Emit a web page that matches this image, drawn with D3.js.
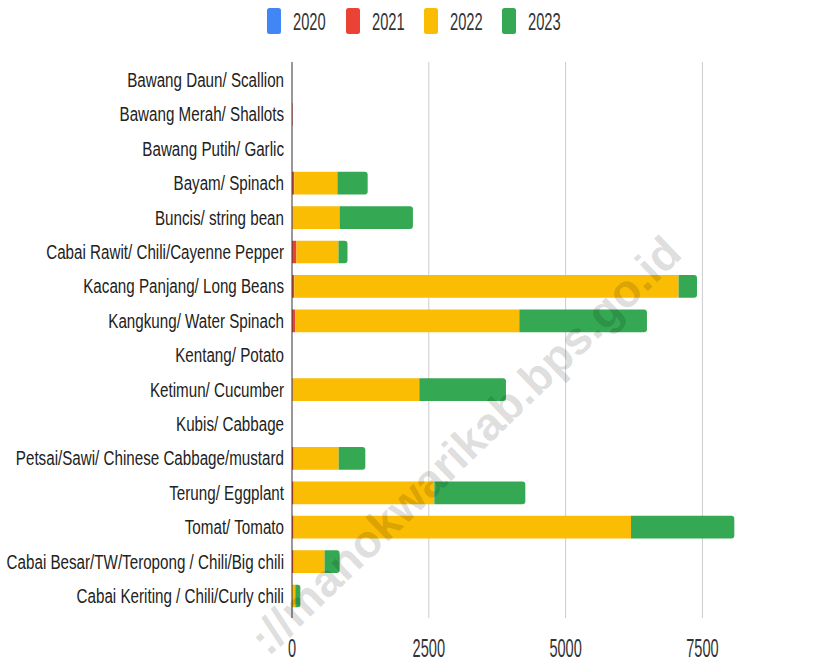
<!DOCTYPE html>
<html><head><meta charset="utf-8">
<script src="https://cdn.jsdelivr.net/npm/d3@7"></script>
<style>html,body{margin:0;padding:0;background:#fff;}svg{display:block;}</style>
</head><body>
<svg id="chart" width="839" height="661"></svg>
<script>
const categories = [
  "Bawang Daun/ Scallion",
  "Bawang Merah/ Shallots",
  "Bawang Putih/ Garlic",
  "Bayam/ Spinach",
  "Buncis/ string bean",
  "Cabai Rawit/ Chili/Cayenne Pepper",
  "Kacang Panjang/ Long Beans",
  "Kangkung/ Water Spinach",
  "Kentang/ Potato",
  "Ketimun/ Cucumber",
  "Kubis/ Cabbage",
  "Petsai/Sawi/ Chinese Cabbage/mustard",
  "Terung/ Eggplant",
  "Tomat/ Tomato",
  "Cabai Besar/TW/Teropong / Chili/Big chili",
  "Cabai Keriting / Chili/Curly chili"
];
const seriesNames = ["2020", "2021", "2022", "2023"];
const values2020 = [0,0,0,0,0,0,0,0,0,0,0,0,0,0,0,0];
const values2021 = [0,10,0,40,10,80,40,60,0,10,0,30,30,30,30,0];
const values2022 = [0,0,0,790,860,770,7025,4094,0,2317,0,823,2571,6165,566,60];
const values2023 = [0,0,0,553,1340,164,336,2333,0,1583,0,487,1663,1888,274,92];
const xTicks = [0, 2500, 5000, 7500];
const colors = ["#4285F4", "#EA4335", "#FBBC04", "#34A853"];
const watermark = "://manokwarikab.bps.go.id";

const svg = d3.select("#chart");
const FONT = "'Liberation Sans', Arial, sans-serif";

const x = d3.scaleLinear().domain([0, 10000]).range([292, 839.2]);
const y = d3.scaleBand().domain(categories).range([62.8, 613.2]).paddingInner(0.34).paddingOuter(0.17);

const allSeries = [values2020, values2021, values2022, values2023];

// gridlines
svg.append("g").selectAll("line").data(xTicks.filter(d => d > 0)).join("line")
  .attr("x1", d => x(d)).attr("x2", d => x(d))
  .attr("y1", 62).attr("y2", 618)
  .attr("stroke", "#cccccc").attr("stroke-width", 1);

// tick labels
svg.append("g").selectAll("text").data(xTicks).join("text")
  .attr("transform", d => `translate(${x(d)},657) scale(0.56,1)`)
  .attr("text-anchor", "middle")
  .attr("font-family", FONT).attr("font-size", 26).attr("fill", "#333")
  .text(d => d);

// stacked data
const stackData = categories.map((c, i) => {
  let acc = 0;
  const segs = [];
  allSeries.forEach((s, k) => {
    const v = s[i];
    if (v > 0) { segs.push({cat: c, k, x0: acc, x1: acc + v}); }
    acc += v;
  });
  if (segs.length) segs[segs.length - 1].last = true;
  return segs;
}).flat();

function segPath(d) {
  const x0 = x(d.x0), x1 = x(d.x1), y0 = y(d.cat), h = y.bandwidth();
  const w = x1 - x0;
  const r = d.last ? Math.min(3, w / 2, h / 2) : 0;
  return `M${x0},${y0} H${x1 - r} Q${x1},${y0} ${x1},${y0 + r} V${y0 + h - r} Q${x1},${y0 + h} ${x1 - r},${y0 + h} H${x0} Z`;
}

svg.append("g").selectAll("path").data(stackData).join("path")
  .attr("d", segPath)
  .attr("fill", d => colors[d.k]);

// zero axis line
svg.append("line")
  .attr("x1", x(0)).attr("x2", x(0)).attr("y1", 62).attr("y2", 618)
  .attr("stroke", "#333").attr("stroke-width", 1);

// category labels
svg.append("g").selectAll("text").data(categories).join("text")
  .attr("transform", d => `translate(${x(0) - 8},${y(d) + y.bandwidth() / 2 + 7}) scale(0.778,1)`)
  .attr("text-anchor", "end")
  .attr("font-family", FONT).attr("font-size", 19.5).attr("fill", "#222")
  .text(d => d);

// legend
const legendX = [267, 346, 424, 502];
const lg = svg.append("g").selectAll("g").data(seriesNames).join("g");
lg.append("rect")
  .attr("x", (d, i) => legendX[i]).attr("y", 8).attr("width", 14).attr("height", 26)
  .attr("rx", 2.5).attr("fill", (d, i) => colors[i]);
lg.append("text")
  .attr("transform", (d, i) => `translate(${legendX[i] + 26},29.5) scale(0.6,1)`)
  .attr("font-family", FONT).attr("font-size", 24.5).attr("fill", "#333")
  .text(d => d);

// watermark
svg.append("text")
  .attr("transform", "translate(684,256) rotate(-44)")
  .attr("text-anchor", "end")
  .attr("font-family", FONT).attr("font-weight", "bold").attr("font-size", 46)
  .attr("fill", "#000").attr("fill-opacity", 0.15)
  .text(watermark);
</script>
</body></html>
